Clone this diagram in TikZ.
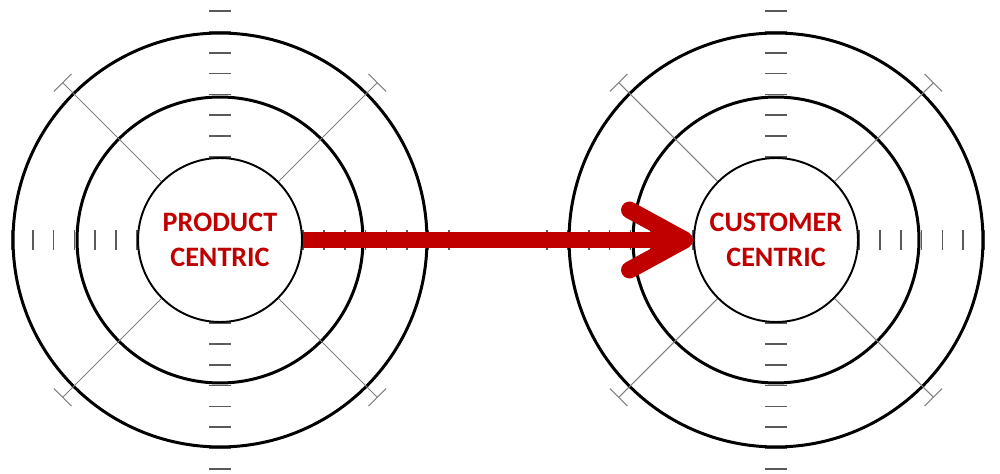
\documentclass[tikz,border=0pt]{standalone}
\usepackage{fontspec}
\newfontfamily\calfont{Carlito}
\usetikzlibrary{arrows.meta}
\definecolor{darkred}{HTML}{C00000}
\definecolor{tickgray}{HTML}{5A5A5A}
\definecolor{spokegray}{HTML}{808080}

\begin{document}
\begin{tikzpicture}[x=0.02cm, y=0.02cm,
    targetring/.style={draw, line width=1.7pt},
    hub/.style={circle, draw, fill=white, line width=1.1pt, minimum size=3.28cm, inner sep=0pt,
                align=center, text=darkred, font=\calfont\bfseries\fontsize{16}{19.5}\selectfont},
    rulemark/.style={draw=tickgray, line width=0.9pt},
    spoke/.style={draw=spokegray, line width=0.6pt, -{Bar[width=0.5cm]}},
    bigarrow/.style={draw=darkred, line width=0.34cm, -{Straight Barb[length=1.1cm, width=1.2cm, round]}}]
    \useasboundingbox (-220,-233) rectangle (780,240);

    % Scale marks on both targets:
    \foreach \cx in {0,556} {
        \foreach \k in {4,...,11} {
            \draw[rulemark] (\cx-11, \k*20.8) -- (\cx+11, \k*20.8);
            \draw[rulemark] (\cx-11, -\k*20.8) -- (\cx+11, -\k*20.8);
            \draw[rulemark] (\cx+\k*20.8, -10) -- (\cx+\k*20.8, 10);
            \draw[rulemark] (\cx-\k*20.8, -10) -- (\cx-\k*20.8, 10);
        }
        \draw[targetring] (\cx, 0) circle[radius=2.86cm];
        \draw[targetring] (\cx, 0) circle[radius=4.14cm];
    }

    % Centres:
    \node[hub] (prod) at (0, 0) {PRODUCT\\CENTRIC};
    \node[hub] (cust) at (556, 0) {CUSTOMER\\CENTRIC};

    % Spokes:
    \foreach \a in {45, 135, 225, 315} {
        \draw[spoke] (prod.\a) -- ++(\a:140);
        \draw[spoke] (cust.\a) -- ++(\a:140);
    }

    % Shift:
    \draw[bigarrow] (prod) -- (cust);
\end{tikzpicture}
\end{document}
